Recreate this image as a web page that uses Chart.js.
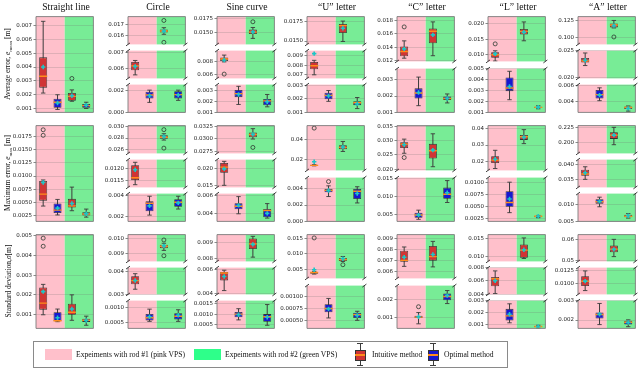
<!DOCTYPE html>
<html>
<head>
<meta charset="utf-8">
<script src="https://cdn.jsdelivr.net/npm/chart.js@4.4.1/dist/chart.umd.min.js"></script>
<style>
  body { margin: 0; background: #fff; }
  #wrap { position: relative; width: 640px; height: 369px; overflow: hidden; font-family: 'Liberation Serif', serif; color: #111; }
  #wrap canvas { position: absolute; }
  .title { position: absolute; top: 1px; width: 100px; text-align: center; font-size: 9.7px; line-height: 12px; z-index: 2; white-space: nowrap; }
  .ylab { position: absolute; left: 8px; font-size: 7.5px; white-space: nowrap; transform: translate(-50%, -50%) rotate(-90deg); z-index: 2; }
  .ylab sub { font-size: 5px; }
  .lg { position: absolute; z-index: 2; }
  .lgtext { position: absolute; font-size: 7.6px; line-height: 11px; white-space: nowrap; z-index: 2; }
</style>
</head>
<body>
<div id="wrap"></div>
<script>
const shapes = ['Straight line', 'Circle', 'Sine curve', '\u201cU\u201d letter', '\u201cC\u201d letter', '\u201cL\u201d letter', '\u201cA\u201d letter'];
const rowLabels = ['Average error, <i>e</i><sub>mean</sub> [m]', 'Maximum error, <i>e</i><sub>max</sub> [m]', 'Standard deviation,<i>\u03c3</i>[m]'];

// each box: [low whisker, q1, median, q3, high whisker, mean, outliers]
// order: intuitive rod1, optimal rod1, intuitive rod2, optimal rod2
const avgLine = [
  [0.00213, 0.00252, 0.00334, 0.00470, 0.00729, 0.0040, []],
  [0.00095, 0.00107, 0.00147, 0.00173, 0.00201, 0.00142, []],
  [0.00154, 0.00158, 0.00189, 0.00213, 0.00236, 0.00194, [0.00318]],
  [0.00102, 0.00107, 0.00123, 0.00135, 0.00147, 0.00125, []]];
const avgCircle = [
  [0.00564, 0.00591, 0.00618, 0.00641, 0.00650, 0.00614, []],
  [0.00091, 0.00127, 0.0016, 0.00192, 0.00206, 0.00154, []],
  [0.01611, 0.01628, 0.01642, 0.01656, 0.01672, 0.0164, [0.01739, 0.01536]],
  [0.00110, 0.00127, 0.00164, 0.00195, 0.00206, 0.0016, []]];
const avgSine = [
  [0.0080, 0.00813, 0.00844, 0.00867, 0.00904, 0.0083, [0.00613]],
  [0.00172, 0.0024, 0.00273, 0.00306, 0.00341, 0.00265, []],
  [0.01392, 0.01473, 0.01506, 0.01555, 0.0159, 0.0151, [0.01694]],
  [0.0015, 0.00164, 0.00205, 0.00224, 0.00265, 0.00197, []]];
const avgU = [
  [0.0070, 0.00757, 0.00793, 0.00832, 0.00849, 0.00918, [0.0125]],
  [0.00182, 0.00198, 0.00227, 0.00248, 0.00264, 0.00222, []],
  [0.01495, 0.01605, 0.0170, 0.0172, 0.01758, 0.01666, []],
  [0.00127, 0.00153, 0.00171, 0.00182, 0.00211, 0.00164, []]];
const avgC = [
  [0.01238, 0.01266, 0.01337, 0.01413, 0.01497, 0.01377, [0.01706]],
  [0.0014, 0.00185, 0.00219, 0.00248, 0.00318, 0.00222, []],
  [0.01275, 0.01461, 0.0164, 0.01683, 0.01781, 0.01586, []],
  [0.00157, 0.00176, 0.00185, 0.00197, 0.00213, 0.00185, []]];
const avgL = [
  [0.00791, 0.00894, 0.00994, 0.01076, 0.01124, 0.01024, [0.01348]],
  [0.00215, 0.00294, 0.00323, 0.0042, 0.00477, 0.00337, []],
  [0.01448, 0.01652, 0.01752, 0.01833, 0.0206, 0.0173, []],
  [0.00131, 0.00139, 0.00144, 0.0015, 0.00159, 0.00147, []]];
const avgA = [
  [0.02228, 0.02283, 0.02315, 0.0237, 0.02461, 0.02326, []],
  [0.00408, 0.00435, 0.00485, 0.00544, 0.00571, 0.00478, []],
  [0.114, 0.1145, 0.1184, 0.1206, 0.125, 0.1175, [0.1008]],
  [0.00275, 0.00302, 0.00322, 0.00333, 0.00341, 0.0031, []]];

const maxLine = [
  [0.00435, 0.00537, 0.00659, 0.00909, 0.00927, 0.0088, [0.01872, 0.01768]],
  [0.00268, 0.00305, 0.00359, 0.00482, 0.0056, 0.00396, []],
  [0.00347, 0.00409, 0.00438, 0.00571, 0.00792, 0.00482, []],
  [0.00226, 0.00256, 0.00286, 0.00317, 0.00378, 0.0029, []]];
const maxCircle = [
  [0.0113, 0.0115, 0.01161, 0.01216, 0.01229, 0.01196, []],
  [0.00211, 0.00249, 0.00327, 0.00345, 0.00394, 0.00301, []],
  [0.02765, 0.0279, 0.02815, 0.0285, 0.02875, 0.02825, [0.02945, 0.02626]],
  [0.0027, 0.00293, 0.00336, 0.00365, 0.00394, 0.0033, []]];
const maxSine = [
  [0.01516, 0.01886, 0.0205, 0.02174, 0.0222, 0.0200, []],
  [0.00395, 0.00445, 0.0048, 0.00514, 0.00589, 0.0049, []],
  [0.02995, 0.0303, 0.03088, 0.03129, 0.03206, 0.0309, [0.02824]],
  [0.00346, 0.00356, 0.00432, 0.00449, 0.0051, 0.0040, []]];
const maxU = [
  [0.0140, 0.0142, 0.0145, 0.0150, 0.0152, 0.01813, [0.0518]],
  [0.00305, 0.00358, 0.00381, 0.004, 0.00437, 0.0038, [0.0049]],
  [0.02841, 0.03065, 0.0325, 0.03467, 0.03841, 0.0327, []],
  [0.00226, 0.00275, 0.0037, 0.004, 0.00426, 0.00343, []]];
const maxC = [
  [0.0256, 0.02747, 0.0288, 0.02944, 0.03056, 0.02859, [0.02411]],
  [0.00375, 0.00418, 0.00492, 0.00558, 0.00625, 0.0049, []],
  [0.02089, 0.02375, 0.02648, 0.0289, 0.03243, 0.0267, []],
  [0.00835, 0.00935, 0.0106, 0.01243, 0.01435, 0.01101, []]];
const maxL = [
  [0.0156, 0.01903, 0.02074, 0.0232, 0.02677, 0.02131, []],
  [0.00376, 0.005, 0.00587, 0.00822, 0.01013, 0.00663, []],
  [0.03086, 0.03314, 0.03503, 0.03617, 0.03943, 0.0347, []],
  [0.0027, 0.00282, 0.003, 0.00313, 0.00318, 0.0030, []]];
const maxA = [
  [0.035, 0.03625, 0.03688, 0.03834, 0.03938, 0.0373, []],
  [0.00928, 0.01019, 0.0108, 0.01152, 0.01214, 0.0109, []],
  [0.1971, 0.2068, 0.213, 0.21776, 0.226, 0.213, []],
  [0.0059, 0.00617, 0.00644, 0.00687, 0.00725, 0.0066, []]];

const stdLine = [
  [0.00099, 0.00125, 0.00158, 0.00237, 0.00253, 0.00216, [0.00487, 0.00446]],
  [0.00064, 0.00066, 0.00069, 0.00112, 0.00128, 0.00084, []],
  [0.00071, 0.00099, 0.00112, 0.00155, 0.002, 0.00128, []],
  [0.00046, 0.00063, 0.00071, 0.00079, 0.00092, 0.0007, []]];
const stdCircle = [
  [0.00322, 0.00344, 0.0036, 0.0038, 0.00391, 0.00361, []],
  [0.00055, 0.00058, 0.00067, 0.00079, 0.00095, 0.0007, []],
  [0.0092, 0.00934, 0.00948, 0.00958, 0.00968, 0.0095, [0.0099, 0.00884]],
  [0.00055, 0.00061, 0.00072, 0.00082, 0.00093, 0.00075, []]];
const stdSine = [
  [0.00425, 0.0051, 0.00572, 0.0058, 0.00595, 0.00542, []],
  [0.00072, 0.00085, 0.001, 0.0011, 0.00126, 0.00097, []],
  [0.00806, 0.00857, 0.0089, 0.00925, 0.00938, 0.00887, []],
  [0.00046, 0.00063, 0.00087, 0.001, 0.00146, 0.00085, []]];
const stdU = [
  [0.0034, 0.00355, 0.0039, 0.00404, 0.0042, 0.00483, [0.01517]],
  [0.00055, 0.00067, 0.00075, 0.00084, 0.00096, 0.00074, []],
  [0.0075, 0.00767, 0.00814, 0.00863, 0.00913, 0.0084, [0.00645]],
  [0.0005, 0.00055, 0.00062, 0.00066, 0.00069, 0.0006, []]];
const stdC = [
  [0.00645, 0.00686, 0.007, 0.00787, 0.00822, 0.00728, []],
  [0.00062, 0.00095, 0.001, 0.00108, 0.00126, 0.00102, [0.00159]],
  [0.0064, 0.00697, 0.00734, 0.00832, 0.00873, 0.00753, []],
  [0.00177, 0.00196, 0.00217, 0.00234, 0.00251, 0.00222, []]];
const stdL = [
  [0.0041, 0.0052, 0.0063, 0.00658, 0.00747, 0.006, []],
  [0.00116, 0.00135, 0.00174, 0.00233, 0.00275, 0.00187, []],
  [0.0095, 0.0097, 0.0118, 0.01335, 0.01515, 0.0119, []],
  [0.0007, 0.0008, 0.00085, 0.0009, 0.00095, 0.00085, []]];
const stdA = [
  [0.00865, 0.00953, 0.01047, 0.01145, 0.0125, 0.0105, []],
  [0.00176, 0.00208, 0.00229, 0.0024, 0.00287, 0.0023, []],
  [0.052, 0.0541, 0.0556, 0.0574, 0.0603, 0.0555, []],
  [0.00165, 0.00176, 0.00188, 0.00196, 0.00201, 0.00187, []]];

// broken y axes, top panel first: [min, max, tick labels]
const avgLineAxes = [[0.00074, 0.00763, ['0.001', '0.002', '0.003', '0.004', '0.005', '0.006', '0.007']]];
const avgCircleAxes = [[0.01517, 0.01775, ['0.016', '0.017']], [0.00543, 0.00709, ['0.006', '0.007']], [-0.00003, 0.00258, ['0.000', '0.002']]];
const avgSineAxes = [[0.01283, 0.01788, ['0.0150', '0.0175']], [0.00547, 0.00973, ['0.006', '0.008']], [0.00098, 0.00357, ['0.001', '0.002', '0.003']]];
const avgUAxes = [[0.01457, 0.01816, ['0.0150', '0.0175']], [0.00663, 0.00949, ['0.007', '0.008', '0.009']], [0.00098, 0.00309, ['0.001', '0.002', '0.003']]];
const avgCAxes = [[0.0119, 0.0186, ['0.012', '0.014', '0.016', '0.018']], [0.00098, 0.00371, ['0.001', '0.002', '0.003']]];
const avgLAxes = [[0.00779, 0.02233, ['0.010', '0.015', '0.020']], [0.00098, 0.00502, ['0.001', '0.002', '0.003', '0.004', '0.005']]];
const avgAAxes = [[0.0899, 0.13066, ['0.100', '0.125']], [0.0199, 0.02505, ['0.020', '0.025']], [0.00259, 0.00612, ['0.004', '0.006']]];

const maxLineAxes = [[0.00146, 0.01951, ['0.0025', '0.0050', '0.0075', '0.0100', '0.0125', '0.0150', '0.0175']]];
const maxCircleAxes = [[0.02535, 0.03015, ['0.026', '0.028', '0.030']], [0.01118, 0.01241, ['0.0115', '0.0120']], [0.0015, 0.0042, ['0.002', '0.004']]];
const maxSineAxes = [[0.02703, 0.03268, ['0.0275', '0.0300', '0.0325']], [0.01455, 0.02271, ['0.015', '0.020']], [0.00309, 0.00623, ['0.004', '0.006']]];
const maxUAxes = [[0.00944, 0.0543, ['0.02', '0.04']], [-0.00002, 0.00539, ['0.000', '0.002', '0.004']]];
const maxCAxes = [[0.0196, 0.0353, ['0.020', '0.025', '0.030', '0.035']], [0.00318, 0.01517, ['0.005', '0.010', '0.015']]];
const maxLAxes = [[0.01446, 0.0419, ['0.02', '0.03', '0.04']], [0.00193, 0.01109, ['0.0025', '0.0050', '0.0075', '0.0100']]];
const maxAAxes = [[0.18266, 0.2289, ['0.200', '0.225']], [0.03219, 0.04188, ['0.035', '0.040']], [0.00492, 0.01321, ['0.005', '0.010']]];

const stdLineAxes = [[0.0003, 0.00505, ['0.001', '0.002', '0.003', '0.004', '0.005']]];
const stdCircleAxes = [[0.00846, 0.01026, ['0.009', '0.010']], [0.00299, 0.00418, ['0.003', '0.004']], [0.00032, 0.00123, ['0.0005', '0.0010']]];
const stdSineAxes = [[0.00779, 0.00949, ['0.008', '0.009']], [0.00393, 0.00617, ['0.004', '0.006']], [0.00031, 0.00165, ['0.0005', '0.0010', '0.0015']]];
const stdUAxes = [[0.002, 0.01625, ['0.005', '0.010', '0.015']], [0.00033, 0.00123, ['0.00050', '0.00075', '0.00100']]];
const stdCAxes = [[0.00535, 0.00935, ['0.006', '0.007', '0.008', '0.009']], [0.00036, 0.00279, ['0.001', '0.002']]];
const stdLAxes = [[0.0087, 0.01606, ['0.010', '0.015']], [0.00398, 0.00796, ['0.004', '0.006', '0.008']], [0.00069, 0.00302, ['0.001', '0.002', '0.003']]];
const stdAAxes = [[0.0497, 0.06258, ['0.05', '0.06']], [0.0079, 0.01315, ['0.0100', '0.0125']], [0.00156, 0.00302, ['0.002', '0.003']]];

const rows = [
  [[avgLine, avgLineAxes], [avgCircle, avgCircleAxes], [avgSine, avgSineAxes], [avgU, avgUAxes], [avgC, avgCAxes], [avgL, avgLAxes], [avgA, avgAAxes]],
  [[maxLine, maxLineAxes], [maxCircle, maxCircleAxes], [maxSine, maxSineAxes], [maxU, maxUAxes], [maxC, maxCAxes], [maxL, maxLAxes], [maxA, maxAAxes]],
  [[stdLine, stdLineAxes], [stdCircle, stdCircleAxes], [stdSine, stdSineAxes], [stdU, stdUAxes], [stdC, stdCAxes], [stdL, stdLAxes], [stdA, stdAAxes]]
];

const PINK = '#ffc0cb', GREEN = '#78ec96', GREEN_LG = '#2eff8a';
const RED = '#d03434', BLUE = '#1818cf', EDGE = '#333';
const MEDIAN = '#ff8c1a', MEAN = '#1cc6c6', WHISK = '#3c3c3c';
const colLeft = [36, 128, 217, 307, 397, 488, 578];
const colW = 60;
const rowTop = [15, 124, 233], rowBottom = [114, 223, 330];
const rowMid = [64, 173, 281];

Chart.defaults.font.family = 'DejaVu Sans';
const wrap = document.getElementById('wrap');

const panelDeco = {
  id: 'panelDeco',
  beforeDraw(chart) {
    const { ctx, chartArea: a, scales: { x } } = chart;
    const mid = x.getPixelForValue(2.5);
    ctx.save();
    ctx.fillStyle = PINK;
    ctx.fillRect(a.left, a.top, mid - a.left, a.bottom - a.top);
    ctx.fillStyle = GREEN;
    ctx.fillRect(mid, a.top, a.right - mid, a.bottom - a.top);
    ctx.restore();
  },
  afterDraw(chart, args, opts) {
    const { ctx, chartArea: a } = chart;
    ctx.save();
    ctx.strokeStyle = '#7a7a7a';
    ctx.lineWidth = 0.9;
    ctx.beginPath();
    ctx.moveTo(a.left, a.top); ctx.lineTo(a.left, a.bottom);
    ctx.moveTo(a.right, a.top); ctx.lineTo(a.right, a.bottom);
    if (!opts.breakTop) { ctx.moveTo(a.left, a.top); ctx.lineTo(a.right, a.top); }
    if (!opts.breakBottom) { ctx.moveTo(a.left, a.bottom); ctx.lineTo(a.right, a.bottom); }
    ctx.stroke();
    // diagonal break marks
    ctx.strokeStyle = '#111';
    ctx.lineWidth = 0.8;
    ctx.beginPath();
    const ys = [];
    if (opts.breakTop) ys.push(a.top);
    if (opts.breakBottom) ys.push(a.bottom);
    ys.forEach(y => [a.left, a.right].forEach(xx => {
      ctx.moveTo(xx - 2, y + 1.5); ctx.lineTo(xx + 2, y - 1.5);
    }));
    ctx.stroke();
    ctx.restore();
  }
};

function makePanel(stats, axis, left, top, w, h, breakTop, breakBottom) {
  const [yMin, yMax, tickLabels] = axis;
  const padL = 30, padR = 3, padV = 4;
  const cv = document.createElement('canvas');
  cv.width = w + padL + padR;
  cv.height = h + 2 * padV;
  cv.style.left = (left - padL) + 'px';
  cv.style.top = (top - padV) + 'px';
  wrap.appendChild(cv);

  const xs = [1, 2, 3, 4];
  const whisk = stats.map((s, i) => ({ x: xs[i], y: [s[0], s[4]] }));
  const boxes = stats.map((s, i) => ({ x: xs[i], y: [s[1], s[3]] }));
  const caps = stats.flatMap((s, i) => [{ x: xs[i], y: s[0] }, { x: xs[i], y: s[4] }]);
  const meds = stats.map((s, i) => ({ x: xs[i], y: s[2] }));
  const means = stats.map((s, i) => ({ x: xs[i], y: s[5] }));
  const fliers = stats.flatMap((s, i) => s[6].map(v => ({ x: xs[i], y: v })));

  new Chart(cv, {
    type: 'bar',
    data: {
      datasets: [
        { type: 'scatter', data: means, pointStyle: 'cross', radius: 2.2, borderColor: MEAN, borderWidth: 1.6, order: 0, clip: 0 },
        { type: 'scatter', data: meds, pointStyle: 'line', radius: 4, borderColor: MEDIAN, borderWidth: 1.4, order: 1, clip: 0 },
        { type: 'scatter', data: fliers, pointStyle: 'circle', radius: 2, backgroundColor: 'rgba(0,0,0,0)', borderColor: '#2c3a30', borderWidth: 0.8, order: 2, clip: 0 },
        { type: 'scatter', data: caps, pointStyle: 'line', radius: 2.2, borderColor: WHISK, borderWidth: 0.9, order: 3, clip: 0 },
        { type: 'bar', data: boxes, backgroundColor: [RED, BLUE, RED, BLUE], borderColor: EDGE, borderWidth: 0.8,
          borderSkipped: false, grouped: false, maxBarThickness: 8, order: 4 },
        { type: 'bar', data: whisk, backgroundColor: WHISK, borderWidth: 0, grouped: false, maxBarThickness: 1, order: 5 }
      ]
    },
    options: {
      responsive: false, animation: false, devicePixelRatio: 1, events: [],
      layout: { padding: { left: 0, right: padR, top: padV, bottom: padV } },
      plugins: { legend: { display: false }, tooltip: { enabled: false }, panelDeco: { breakTop, breakBottom } },
      scales: {
        x: { type: 'linear', min: 0.5, max: 4.5, offset: false, display: false },
        y: {
          type: 'linear', min: yMin, max: yMax,
          afterBuildTicks: s => { s.ticks = tickLabels.map(t => ({ value: parseFloat(t) })); },
          afterFit: s => { s.width = padL; s.paddingTop = 0; s.paddingBottom = 0; },
          ticks: { autoSkip: false, padding: 1.5, color: '#222', font: { size: 5.5 }, callback: (v, i) => tickLabels[i] },
          grid: { color: 'rgba(110,110,110,0.32)', lineWidth: 0.7, tickLength: 2.5, tickColor: '#555' },
          border: { display: false }
        }
      }
    },
    plugins: [panelDeco]
  });
}

rows.forEach((cells, r) => {
  cells.forEach(([stats, axes], c) => {
    const n = axes.length;
    const gap = n === 3 ? 3 : 4;
    const H = rowBottom[r] - rowTop[r];
    const h = Math.round((H - gap * (n - 1)) / n);
    axes.forEach((ax, k) => {
      const top = Math.round(rowTop[r] + k * (h + gap));
      const hh = k === n - 1 ? rowBottom[r] - top : h;
      makePanel(stats, ax, colLeft[c], top, colW, hh, k > 0, k < n - 1);
    });
  });
});

// titles and row labels
shapes.forEach((s, c) => {
  const d = document.createElement('div');
  d.className = 'title';
  d.textContent = s;
  d.style.left = (colLeft[c] + colW / 2 - 50) + 'px';
  wrap.appendChild(d);
});
rowLabels.forEach((t, r) => {
  const d = document.createElement('div');
  d.className = 'ylab';
  d.innerHTML = t;
  d.style.top = rowMid[r] + 'px';
  wrap.appendChild(d);
});

// legend
function addDiv(cls, css, html) {
  const d = document.createElement('div');
  d.className = cls;
  Object.assign(d.style, css);
  if (html) d.innerHTML = html;
  wrap.appendChild(d);
}
addDiv('lg', { left: '33px', top: '341px', width: '473px', height: '25px', border: '1px solid #8a8a8a', background: '#fff', zIndex: 1 });
addDiv('lg', { left: '45px', top: '349px', width: '27px', height: '11px', background: PINK });
addDiv('lgtext', { left: '76px', top: '349px' }, 'Expeiments with rod #1 (pink VPS)');
addDiv('lg', { left: '194px', top: '349px', width: '27px', height: '11px', background: GREEN_LG });
addDiv('lgtext', { left: '225px', top: '349px' }, 'Expeiments with rod #2 (green VPS)');
function boxIcon(cx, fill) {
  addDiv('lg', { left: (cx - 0.5) + 'px', top: '343px', width: '1px', height: '23px', background: WHISK });
  addDiv('lg', { left: (cx - 3) + 'px', top: '343px', width: '6px', height: '1px', background: WHISK });
  addDiv('lg', { left: (cx - 3) + 'px', top: '365px', width: '6px', height: '1px', background: WHISK });
  addDiv('lg', { left: (cx - 5.5) + 'px', top: '350px', width: '9px', height: '9px', background: fill, border: '1px solid ' + EDGE });
  addDiv('lg', { left: (cx - 5) + 'px', top: '354px', width: '10px', height: '1.5px', background: MEDIAN });
}
boxIcon(360, RED);
addDiv('lgtext', { left: '372px', top: '349px' }, 'Intuitive method');
boxIcon(433, BLUE);
addDiv('lgtext', { left: '444px', top: '349px' }, 'Optimal method');
</script>
</body>
</html>
